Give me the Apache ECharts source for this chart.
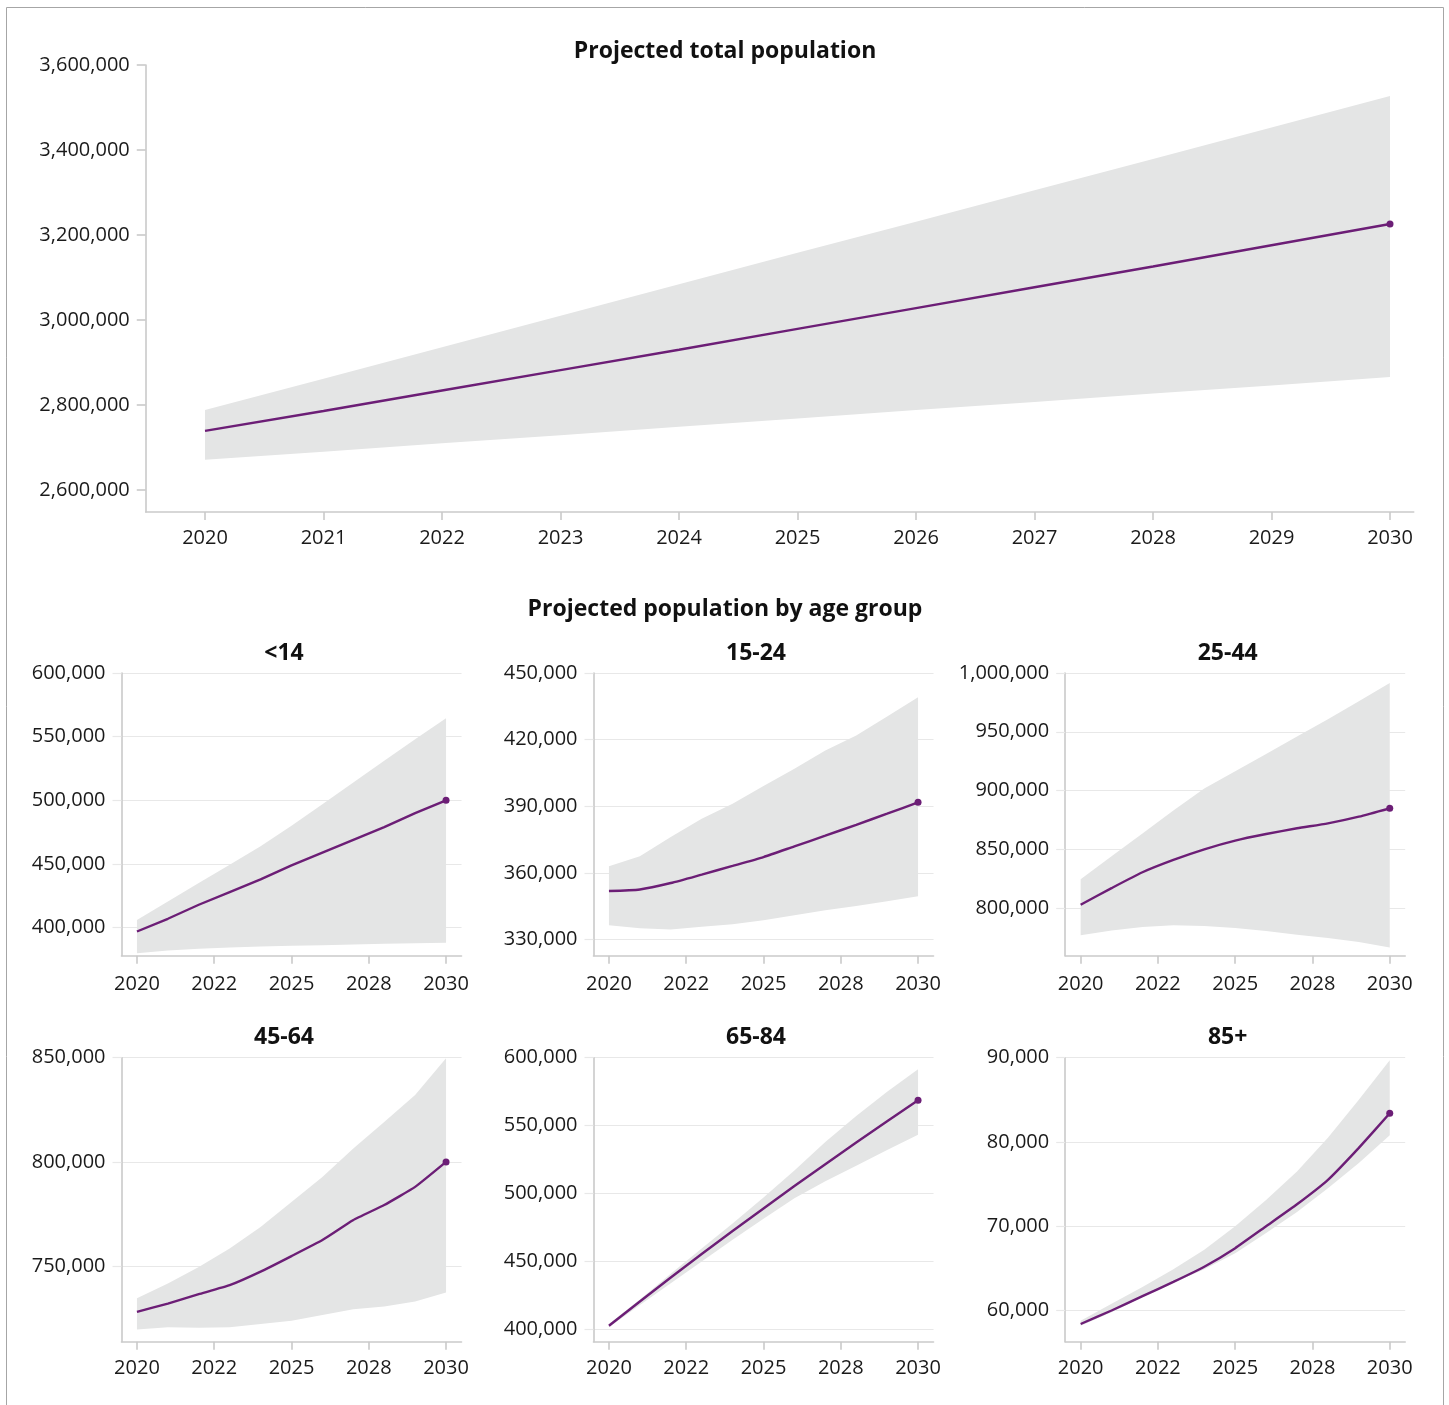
<!DOCTYPE html>
<html><head><meta charset="utf-8">
<script src="https://cdn.jsdelivr.net/npm/echarts@6/dist/echarts.min.js"></script>
<style>html,body{margin:0;padding:0;background:#fff}#c{width:1449px;height:1405px}</style>
</head><body><div id="c"></div>
<script>
// ---------- data ----------
const years = [2020, 2021, 2022, 2023, 2024, 2025, 2026, 2027, 2028, 2029, 2030];

const totalMid  = [2739000, 2786000, 2834000, 2882000, 2930000, 2979000, 3028000, 3077000, 3126000, 3176000, 3226000];
const totalHigh = [2788000, 2862000, 2936000, 3010000, 3084000, 3158000, 3231000, 3305000, 3379000, 3453000, 3527000];
const totalLow  = [2671000, 2690000, 2710000, 2729000, 2749000, 2768000, 2788000, 2807000, 2827000, 2846000, 2866000];

const u14Mid  = [397000, 407000, 418000, 428000, 438000, 449000, 459000, 469000, 479000, 490000, 500000];
const u14High = [406000, 420500, 435000, 449500, 464000, 480000, 497000, 514000, 531000, 548000, 564500];
const u14Low  = [380000, 382000, 383500, 384500, 385200, 385800, 386300, 386800, 387300, 387800, 388200];

const p15Mid  = [351900, 352600, 355500, 359300, 363200, 367200, 372000, 376800, 381700, 386700, 391800];
const p15High = [363000, 367500, 376200, 384400, 391200, 399100, 406900, 415100, 421900, 430400, 439100];
const p15Low  = [336500, 335200, 334600, 335800, 337000, 338800, 341000, 343300, 345200, 347300, 349500];

const p25Mid  = [802800, 817000, 830500, 841000, 850000, 857400, 863000, 867900, 872100, 877800, 884900];
const p25High = [824600, 844000, 863400, 883000, 901700, 916400, 931100, 945900, 960600, 975900, 991500];
const p25Low  = [776800, 781000, 783900, 785300, 784700, 783000, 780500, 777400, 774500, 771100, 766400];

const p45Mid  = [728000, 732000, 736500, 740800, 747300, 754800, 762500, 772100, 779300, 788000, 800000];
const p45High = [734600, 741600, 749600, 758400, 768800, 780800, 792800, 806400, 819200, 832100, 849700];
const p45Low  = [719600, 720600, 720400, 720600, 722200, 723800, 726500, 729300, 730600, 733000, 737300];

const p65Mid  = [402600, 420500, 438200, 455500, 472400, 489000, 505500, 521600, 537500, 553200, 568600];
const p65High = [404000, 422000, 441000, 459500, 478000, 497000, 517000, 538000, 557000, 575000, 591500];
const p65Low  = [401500, 418000, 434000, 450000, 466000, 481500, 496500, 509000, 520500, 532000, 543200];

const p85Mid  = [58400, 60000, 61700, 63400, 65200, 67400, 70000, 72600, 75500, 79300, 83400];
const p85High = [58800, 60800, 62800, 64900, 67200, 70000, 73100, 76500, 80500, 85000, 89700];
const p85Low  = [58200, 59800, 61600, 63300, 64900, 66800, 69200, 71700, 74500, 77500, 80800];

const totalYTicks = [2600000, 2800000, 3000000, 3200000, 3400000, 3600000];
const u14YTicks = [400000, 450000, 500000, 550000, 600000];
const p15YTicks = [330000, 360000, 390000, 420000, 450000];
const p25YTicks = [800000, 850000, 900000, 950000, 1000000];
const p45YTicks = [750000, 800000, 850000];
const p65YTicks = [400000, 450000, 500000, 550000, 600000];
const p85YTicks = [60000, 70000, 80000, 90000];

const totalXTicks = years;
const totalXLabels = ['2020', '2021', '2022', '2023', '2024', '2025', '2026', '2027', '2028', '2029', '2030'];
const panelXTicks = [2020, 2022.5, 2025, 2027.5, 2030];
const panelXLabels = ['2020', '2022', '2025', '2028', '2030'];

const mainTitle = 'Projected total population';
const subTitle = 'Projected population by age group';

// ---------- styling / layout ----------
const PURPLE = '#6c1e76';
const BAND = '#e4e5e5';
const AXIS = '#cacaca';
const GRIDC = '#e8e8e8';
const FONT = '"Open Sans", "Noto Sans", sans-serif';

const panels = [
  {name: '<14',   mid: u14Mid, low: u14Low, high: u14High, ticks: u14YTicks, min: 378000, max: 600000, col: 0, row: 0, smooth: false},
  {name: '15-24', mid: p15Mid, low: p15Low, high: p15High, ticks: p15YTicks, min: 322800, max: 450000, col: 1, row: 0, smooth: 0.2},
  {name: '25-44', mid: p25Mid, low: p25Low, high: p25High, ticks: p25YTicks, min: 759500, max: 1000000, col: 2, row: 0, smooth: 0.2},
  {name: '45-64', mid: p45Mid, low: p45Low, high: p45High, ticks: p45YTicks, min: 713700, max: 850000, col: 0, row: 1, smooth: 0.12},
  {name: '65-84', mid: p65Mid, low: p65Low, high: p65High, ticks: p65YTicks, min: 390900, max: 600000, col: 1, row: 1, smooth: false},
  {name: '85+',   mid: p85Mid, low: p85Low, high: p85High, ticks: p85YTicks, min: 56300, max: 90000, col: 2, row: 1, smooth: 0.12}
];
const colLeft = [121.5, 593.5, 1065.2];
const rowTop = [673, 1057.7];
const rowH = [282.7, 284];
const panelW = 340;

const fmt = v => Number(v).toLocaleString('en-US');
const labelFor = (ticks, labels) => v => {
  for (let i = 0; i < ticks.length; i++) if (Math.abs(ticks[i] - v) < 1e-6) return labels[i];
  return '';
};

const grids = [], xAxes = [], yAxes = [], series = [], graphics = [];

function addPanel(idx, cfg) {
  grids.push(cfg.grid);
  xAxes.push({
    type: 'value', gridIndex: idx, min: cfg.xmin, max: cfg.xmax,
    axisLine: {show: true, lineStyle: {color: AXIS, width: 1.6}},
    axisTick: {show: true, length: 8, lineStyle: {color: AXIS, width: 1.6}, customValues: cfg.xTicks},
    axisLabel: {show: true, margin: cfg.xMargin, fontSize: 20, fontFamily: FONT, color: '#1a1a1a',
      customValues: cfg.xTicks, formatter: labelFor(cfg.xTicks, cfg.xLabels)},
    splitLine: {show: false}
  });
  yAxes.push({
    type: 'value', gridIndex: idx, min: cfg.ymin, max: cfg.ymax,
    axisLine: {show: true, lineStyle: {color: AXIS, width: 1.6}},
    axisTick: {show: true, length: 9, lineStyle: {color: cfg.gridLines ? GRIDC : AXIS, width: cfg.gridLines ? 1.2 : 1.6}, customValues: cfg.yTicks},
    axisLabel: {show: true, margin: 16, fontSize: 20, fontFamily: FONT, color: '#1a1a1a',
      customValues: cfg.yTicks, formatter: fmt},
    splitLine: {show: !!cfg.gridLines, lineStyle: {color: GRIDC, width: 1.2}}
  });
  // uncertainty band: one polygon through the (year, high) points and back along (year, low)
  const bandData = years.map((y, i) => [y, cfg.low[i], cfg.high[i]]);
  series.push({
    type: 'custom', xAxisIndex: idx, yAxisIndex: idx, data: bandData,
    encode: {x: 0, y: [1, 2]}, silent: true, z: 1,
    renderItem: (params, api) => {
      if (params.dataIndex !== 0) return null;
      const top = bandData.map(d => api.coord([d[0], d[2]]));
      const bot = bandData.map(d => api.coord([d[0], d[1]])).reverse();
      return {type: 'polygon', shape: {points: top.concat(bot)}, style: {fill: BAND}, silent: true};
    }
  });
  const last = years.length - 1;
  series.push({
    type: 'line', xAxisIndex: idx, yAxisIndex: idx, data: years.map((y, i) => [y, cfg.mid[i]]),
    smooth: cfg.smooth, symbol: 'circle', showSymbol: true, showAllSymbol: true,
    symbolSize: (v, p) => (p.dataIndex === last ? 7 : 0),
    itemStyle: {color: PURPLE}, lineStyle: {color: PURPLE, width: 2.4}, z: 3
  });
}

// top panel
addPanel(0, {
  grid: {left: 145.75, top: 65, width: 118.5 * 10.7, height: 447},
  xmin: 2019.5, xmax: 2030.2, xTicks: totalXTicks, xLabels: totalXLabels, xMargin: 16,
  ymin: 2548235, ymax: 3600000, yTicks: totalYTicks, gridLines: false,
  mid: totalMid, low: totalLow, high: totalHigh, smooth: false
});

panels.forEach((p, k) => {
  addPanel(k + 1, {
    grid: {left: colLeft[p.col], top: rowTop[p.row], width: panelW, height: rowH[p.row]},
    xmin: 2019.5, xmax: 2030.5, xTicks: panelXTicks, xLabels: panelXLabels, xMargin: p.row === 0 ? 19 : 17,
    ymin: p.min, ymax: p.max, yTicks: p.ticks, gridLines: true,
    mid: p.mid, low: p.low, high: p.high, smooth: p.smooth
  });
  graphics.push({
    type: 'text', x: colLeft[p.col] + 0.5 + 162, y: rowTop[p.row] - 20,
    style: {text: p.name, font: 'bold 23px ' + FONT, fill: '#111', textAlign: 'center', textVerticalAlign: 'middle'}
  });
});

graphics.push({
  type: 'rect', shape: {x: 6.5, y: 7.5, width: 1437, height: 1420},
  style: {fill: null, stroke: '#a6a6a6', lineWidth: 1}, z: -1, silent: true
});
graphics.push({
  type: 'text', x: 725, y: 51,
  style: {text: mainTitle, font: 'bold 23px ' + FONT, fill: '#111', textAlign: 'center', textVerticalAlign: 'middle'}
});
graphics.push({
  type: 'text', x: 725, y: 609,
  style: {text: subTitle, font: 'bold 23px ' + FONT, fill: '#111', textAlign: 'center', textVerticalAlign: 'middle'}
});

const chart = echarts.init(document.getElementById('c'), null, {renderer: 'canvas'});
chart.setOption({
  backgroundColor: '#fff',
  animation: false,
  grid: grids,
  xAxis: xAxes,
  yAxis: yAxes,
  series: series,
  graphic: graphics
});
</script>
</body></html>
